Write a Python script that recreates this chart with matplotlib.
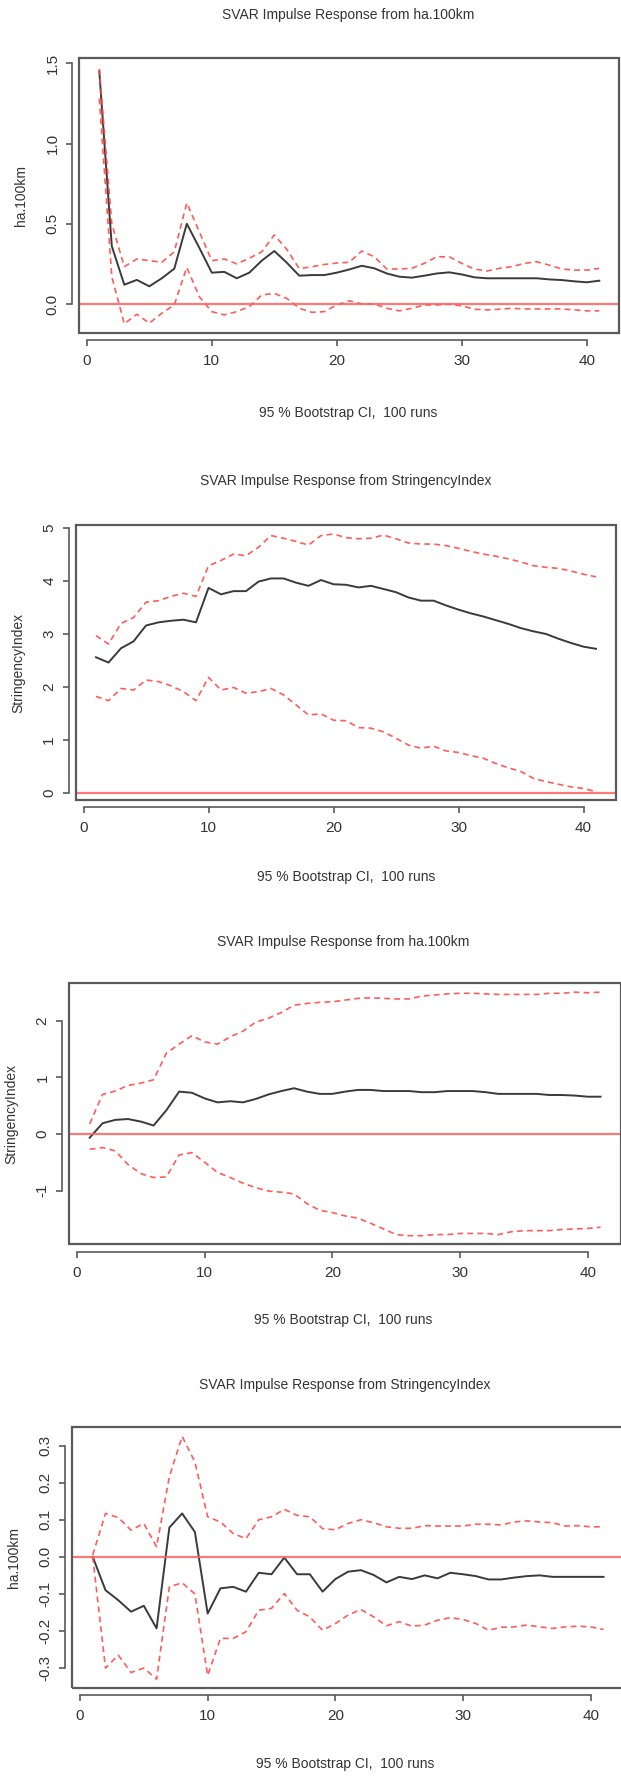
import matplotlib
matplotlib.use("Agg")
import matplotlib.pyplot as plt
from matplotlib.patches import Rectangle

plt.rcParams['font.family'] = ['Liberation Sans', 'DejaVu Sans']
plt.rcParams['axes.unicode_minus'] = False

# horizon steps 1..41
steps = list(range(1, 42))

# --- panel 1: ha.100km -> ha.100km
p1_mean = [1.45, 0.36, 0.12, 0.15, 0.11, 0.16, 0.22, 0.50, 0.35, 0.195,
           0.20, 0.16, 0.195, 0.27, 0.33, 0.257, 0.176, 0.18, 0.18, 0.195,
           0.215, 0.238, 0.222, 0.19, 0.17, 0.164, 0.176, 0.19, 0.197, 0.184,
           0.166, 0.16, 0.16, 0.16, 0.16, 0.16, 0.153, 0.149, 0.141, 0.135, 0.145]
p1_upper = [1.465, 0.50, 0.232, 0.28, 0.27, 0.26, 0.325, 0.63, 0.45, 0.27,
            0.28, 0.25, 0.285, 0.325, 0.43, 0.34, 0.22, 0.232, 0.246, 0.255,
            0.26, 0.33, 0.294, 0.218, 0.218, 0.222, 0.253, 0.294, 0.294, 0.253,
            0.218, 0.205, 0.222, 0.232, 0.253, 0.263, 0.242, 0.218, 0.211, 0.211, 0.222]
p1_lower = [1.28, 0.17, -0.124, -0.064, -0.12, -0.058, -0.006, 0.228, 0.046, -0.048,
            -0.068, -0.048, -0.017, 0.056, 0.066, 0.035, -0.027, -0.052, -0.048, -0.006,
            0.02, 0.0, 0.0, -0.027, -0.043, -0.027, -0.006, -0.006, -0.002, -0.012,
            -0.033, -0.037, -0.033, -0.027, -0.031, -0.031, -0.031, -0.031, -0.037, -0.043, -0.043]

# --- panel 2: StringencyIndex -> StringencyIndex
p2_mean = [2.56, 2.46, 2.73, 2.86, 3.16, 3.22, 3.25, 3.27, 3.22, 3.87,
           3.75, 3.81, 3.81, 3.99, 4.05, 4.05, 3.97, 3.91, 4.02, 3.94,
           3.93, 3.88, 3.91, 3.85, 3.79, 3.69, 3.63, 3.63, 3.54, 3.46,
           3.39, 3.33, 3.26, 3.19, 3.11, 3.05, 3.00, 2.91, 2.83, 2.76, 2.72]
p2_upper = [2.97, 2.81, 3.20, 3.31, 3.60, 3.63, 3.71, 3.77, 3.71, 4.29,
            4.39, 4.51, 4.48, 4.64, 4.86, 4.81, 4.75, 4.68, 4.86, 4.89,
            4.82, 4.80, 4.81, 4.87, 4.80, 4.72, 4.70, 4.70, 4.67, 4.62,
            4.56, 4.51, 4.47, 4.42, 4.36, 4.29, 4.26, 4.24, 4.19, 4.13, 4.08]
p2_lower = [1.82, 1.74, 1.97, 1.94, 2.13, 2.10, 2.02, 1.91, 1.74, 2.18,
            1.94, 1.99, 1.88, 1.91, 1.97, 1.85, 1.66, 1.47, 1.49, 1.37,
            1.36, 1.23, 1.22, 1.15, 1.03, 0.90, 0.84, 0.88, 0.79, 0.76,
            0.70, 0.65, 0.55, 0.47, 0.40, 0.27, 0.21, 0.16, 0.11, 0.08, 0.02]

# --- panel 3: ha.100km -> StringencyIndex
p3_mean = [-0.065, 0.19, 0.25, 0.265, 0.22, 0.15, 0.42, 0.75, 0.73, 0.63,
           0.56, 0.58, 0.56, 0.62, 0.70, 0.76, 0.81, 0.75, 0.71, 0.71,
           0.75, 0.78, 0.78, 0.76, 0.76, 0.76, 0.74, 0.74, 0.76, 0.76,
           0.76, 0.74, 0.71, 0.71, 0.71, 0.71, 0.69, 0.69, 0.68, 0.66, 0.66]
p3_upper = [0.18, 0.70, 0.76, 0.86, 0.90, 0.96, 1.43, 1.59, 1.74, 1.63,
            1.59, 1.72, 1.82, 1.98, 2.05, 2.15, 2.28, 2.31, 2.33, 2.34,
            2.37, 2.40, 2.41, 2.40, 2.39, 2.39, 2.44, 2.46, 2.48, 2.49,
            2.49, 2.48, 2.47, 2.47, 2.47, 2.47, 2.49, 2.49, 2.51, 2.50, 2.51]
p3_lower = [-0.27, -0.24, -0.30, -0.54, -0.70, -0.77, -0.76, -0.37, -0.33, -0.50,
            -0.68, -0.77, -0.87, -0.95, -1.01, -1.03, -1.06, -1.23, -1.35, -1.39,
            -1.45, -1.49, -1.58, -1.68, -1.78, -1.80, -1.80, -1.78, -1.78, -1.76,
            -1.76, -1.76, -1.78, -1.73, -1.71, -1.71, -1.71, -1.69, -1.68, -1.67, -1.65]

# --- panel 4: StringencyIndex -> ha.100km
p4_mean = [0.0, -0.09, -0.117, -0.148, -0.132, -0.193, 0.079, 0.117, 0.067, -0.153,
           -0.085, -0.081, -0.094, -0.043, -0.047, -0.002, -0.047, -0.047, -0.094, -0.06,
           -0.04, -0.036, -0.049, -0.069, -0.054, -0.06, -0.05, -0.058, -0.043, -0.047,
           -0.052, -0.061, -0.061, -0.056, -0.052, -0.05, -0.054, -0.054, -0.054, -0.054, -0.054]
p4_upper = [0.005, 0.117, 0.106, 0.072, 0.09, 0.027, 0.216, 0.325, 0.256, 0.108,
            0.094, 0.063, 0.049, 0.10, 0.108, 0.128, 0.112, 0.108, 0.076, 0.073,
            0.09, 0.10, 0.092, 0.081, 0.077, 0.077, 0.084, 0.083, 0.083, 0.083,
            0.088, 0.088, 0.086, 0.094, 0.097, 0.094, 0.092, 0.083, 0.084, 0.081, 0.081]
p4_lower = [0.0, -0.30, -0.265, -0.312, -0.30, -0.33, -0.081, -0.07, -0.10, -0.32,
            -0.22, -0.22, -0.202, -0.144, -0.139, -0.099, -0.144, -0.162, -0.198, -0.18,
            -0.157, -0.142, -0.162, -0.186, -0.175, -0.187, -0.184, -0.171, -0.164, -0.169,
            -0.18, -0.198, -0.19, -0.189, -0.184, -0.189, -0.193, -0.189, -0.187, -0.189, -0.196]

titles = ["SVAR Impulse Response from ha.100km",
          "SVAR Impulse Response from StringencyIndex",
          "SVAR Impulse Response from ha.100km",
          "SVAR Impulse Response from StringencyIndex"]
ylabels = ["ha.100km", "StringencyIndex", "StringencyIndex", "ha.100km"]
yticks = [[0.0, 0.5, 1.0, 1.5], [0, 1, 2, 3, 4, 5], [-1, 0, 1, 2], [-0.3, -0.2, -0.1, 0.0, 0.1, 0.2, 0.3]]
ytick_labels = [["0.0", "0.5", "1.0", "1.5"], ["0", "1", "2", "3", "4", "5"],
                ["-1", "0", "1", "2"], ["-0.3", "-0.2", "-0.1", "0.0", "0.1", "0.2", "0.3"]]
ylims = [(-0.181, 1.531), (-0.138, 5.06), (-1.952, 2.667), (-0.353, 0.351)]
xticks = [0, 10, 20, 30, 40]
xlim = (-0.6, 42.6)

series = [(p1_mean, p1_upper, p1_lower), (p2_mean, p2_upper, p2_lower),
          (p3_mean, p3_upper, p3_lower), (p4_mean, p4_upper, p4_lower)]

# pixel layout of each panel: left, top, bottom, px per x unit, title y, xlabel y
W, H = 621, 1776
boxes = [(79.3, 58.3, 333.0, 12.5, 15, 413),
         (76.0, 525.0, 800.0, 12.5, 481, 877),
         (69.3, 983.3, 1244.3, 12.77, 942, 1320),
         (72.3, 1426.7, 1687.7, 12.77, 1385, 1764)]

box_col = '#5a5a5a'
txt_col = '#333333'
red_dash = '#ff4a4a'
fig = plt.figure(figsize=(W / 100, H / 100), dpi=100)

for i in range(4):
    left, top, bottom, pxu, ty, xly = boxes[i]
    right = left + (xlim[1] - xlim[0]) * pxu
    ax = fig.add_axes([left / W, 1 - bottom / H, (right - left) / W, (bottom - top) / H])
    mean, upper, lower = series[i]
    ax.plot(steps, mean, color='#3a3a3a', lw=1.4)
    ax.plot(steps, upper, color=red_dash, lw=1.2, ls=(0, (3.5, 2.5)), alpha=0.9)
    ax.plot(steps, lower, color=red_dash, lw=1.2, ls=(0, (3.5, 2.5)), alpha=0.9)
    ax.axhline(0, color='#ff6060', lw=1.6, alpha=0.85)
    ax.set_xlim(*xlim)
    ax.set_ylim(*ylims[i])

    ax.spines['top'].set_visible(False)
    ax.spines['right'].set_visible(False)
    for s in ['bottom', 'left']:
        ax.spines[s].set_position(('outward', 5.3))
        ax.spines[s].set_color(box_col)
        ax.spines[s].set_linewidth(1.2)
    ax.spines['bottom'].set_bounds(xticks[0], xticks[-1])
    ax.spines['left'].set_bounds(yticks[i][0], yticks[i][-1])
    ax.add_patch(Rectangle((0, 0), 1, 1, transform=ax.transAxes, fill=False,
                           ec=box_col, lw=1.6, clip_on=False, zorder=5))

    ax.set_xticks(xticks)
    ax.set_xticklabels([str(t) for t in xticks])
    ax.set_yticks(yticks[i])
    ax.set_yticklabels(ytick_labels[i], rotation=90, va='center')
    ax.tick_params(direction='out', length=4, width=1.2, color=box_col,
                   labelsize=11, labelcolor=txt_col)
    ax.tick_params(axis='x', pad=6)
    ax.tick_params(axis='y', pad=5)

    cx = (left + min(right, 618)) / 2
    fig.text(cx / W, 1 - ty / H, titles[i], ha='center', va='center',
             fontsize=10, color=txt_col)
    fig.text(cx / W, 1 - xly / H, "95 % Bootstrap CI,  100 runs", ha='center',
             va='center', fontsize=10, color=txt_col)
    fig.text((left - 58) / W, 1 - (top + bottom) / 2 / H, ylabels[i], rotation=90,
             ha='center', va='center', fontsize=10, color=txt_col)

fig.savefig("out.png", dpi=100)
